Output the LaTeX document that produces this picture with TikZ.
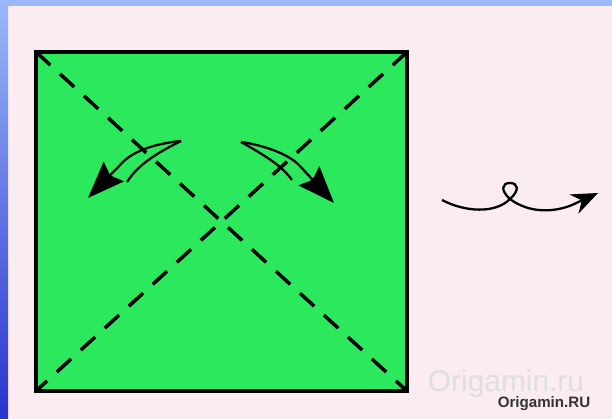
\documentclass[tikz,border=0pt]{standalone}
\usepackage{fontspec}
\setsansfont{Liberation Sans}
\usetikzlibrary{arrows.meta}

\definecolor{sheet}{RGB}{44,232,92}
\definecolor{paper}{RGB}{250,236,240}
\definecolor{slide}{RGB}{40,50,205}
\definecolor{slidetop}{RGB}{155,185,250}

\begin{document}
\begin{tikzpicture}[x=0.02cm,y=-0.02cm]
            \useasboundingbox (0,0) rectangle (612,419);

            % slide background
            \fill[paper] (0,0) rectangle (612,419);
            \shade[top color=slidetop,bottom color=slide] (0,0) rectangle (8,419);
            \fill[slidetop] (0,0) rectangle (612,6);

            \coordinate (A) at (36,52);
            \coordinate (B) at (407,52);
            \coordinate (C) at (407,391);
            \coordinate (D) at (36,391);

            \fill[sheet] (A) rectangle (C);
            \draw[line width=2pt] (A)--(B)--(C)--(D)--cycle;
            \draw[line width=2pt,dash pattern=on 11pt off 7.5pt] (A)--(C);
            \draw[line width=2pt,dash pattern=on 11pt off 7.5pt] (B)--(D);

            % left fold arrow
            \coordinate (L) at (181,141);
            \draw[line width=1.3pt,-{Stealth[length=21pt,width=16pt,inset=3pt]}] (L) .. controls (160,143) and (137,149) .. (124,161) -- (88,198);
            \draw[line width=1.3pt] (L) .. controls (155,154) and (138,165) .. (127,182);

            % right fold arrow
            \coordinate (R) at (241,142);
            \draw[line width=1.3pt,-{Stealth[length=21pt,width=16pt,inset=3pt]}] (R) .. controls (262,145) and (287,153) .. (299,165) -- (334,203);
            \draw[line width=1.3pt] (R) .. controls (266,156) and (282,166) .. (292,180);

            % turn over
            \coordinate (S) at (442,200);
            \coordinate (K) at (510,199);
            \draw[line width=1.3pt,-{Stealth[length=15pt,width=12pt]}] (S) .. controls (465,212) and (495,214) .. (K)
                .. controls (500,190) and (502,183) .. (510,183)
                .. controls (518,183) and (520,190) .. (510,199)
                .. controls (530,214) and (555,212) .. (572,205) -- (598,193);

            \node[text=gray!25,font=\sffamily\fontsize{17}{17}\selectfont] (wm) at (506,384) {Origamin.ru};
            \node[text=black!80,font=\sffamily\bfseries\fontsize{8.6}{9}\selectfont] (src) at (544,404) {Origamin.RU};
        \end{tikzpicture}
\end{document}
